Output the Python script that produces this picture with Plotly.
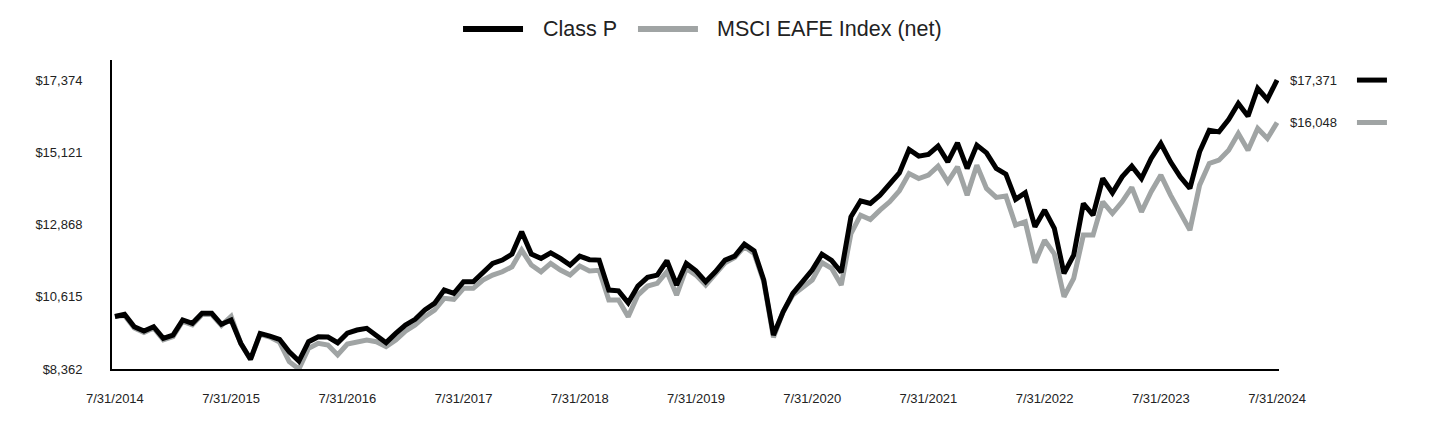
import pandas as pd
import plotly.graph_objects as go

# Monthly dates (categories)
dates = pd.date_range("2014-07-31", periods=121, freq="ME")
categories = [f"{d.month}/{d.day}/{d.year}" for d in dates]

class_p = [
    10000, 10070, 9680, 9545, 9680, 9318, 9420, 9890, 9786, 10097,
    10097, 9755, 9890, 9163, 8664, 9472, 9390, 9287, 8900, 8611,
    9213, 9370, 9360, 9180, 9480, 9577, 9630, 9420, 9183, 9474,
    9733, 9910, 10200, 10408, 10823, 10720, 11083, 11083, 11394, 11655,
    11758, 11945, 12640, 11945, 11811, 11986, 11811, 11603, 11883, 11770,
    11758, 10823, 10800, 10428, 10948, 11219, 11291, 11737, 10980, 11655,
    11425, 11083, 11394, 11758, 11883, 12257, 12049, 11135, 9420, 10148,
    10720, 11083, 11447, 11940, 11750, 11380, 13107, 13606, 13523, 13784,
    14127, 14478, 15206, 14999, 15051, 15310, 14822, 15413, 14616, 15342,
    15102, 14616, 14438, 13650, 13857, 12796, 13316, 12750, 11343, 11914,
    13523, 13160, 14302, 13857, 14354, 14687, 14302, 14927, 15393, 14822,
    14354, 13992, 15133, 15809, 15757, 16142, 16640, 16246, 17109, 16766,
    17371,
]

msci_eafe = [
    10000, 10030, 9640, 9500, 9640, 9270, 9370, 9850, 9740, 10060,
    10060, 9720, 10000, 9150, 8660, 9440, 9360, 9200, 8590, 8362,
    9007, 9163, 9110, 8800, 9140, 9213, 9266, 9213, 9057, 9266,
    9545, 9733, 9992, 10200, 10565, 10534, 10876, 10876, 11135, 11291,
    11394, 11550, 12070, 11603, 11394, 11655, 11447, 11291, 11571, 11420,
    11440, 10512, 10512, 9992, 10668, 10948, 11032, 11394, 10668, 11499,
    11291, 10980, 11322, 11675, 11842, 12174, 11966, 11083, 9350, 10150,
    10668, 10927, 11135, 11680, 11500, 10980, 12588, 13160, 13024, 13316,
    13575, 13918, 14457, 14302, 14407, 14687, 14198, 14666, 13784, 14718,
    13992, 13712, 13753, 12849, 12952, 11675, 12380, 11950, 10615, 11188,
    12537, 12537, 13575, 13213, 13575, 14023, 13263, 13888, 14407, 13784,
    13263, 12693, 14095, 14770, 14874, 15186, 15705, 15186, 15861, 15550,
    16048,
]

series_names = ["Class P", "MSCI EAFE Index (net)"]
y_tick_vals = [8362, 10615, 12868, 15121, 17374]
y_tick_text = ["$8,362", "$10,615", "$12,868", "$15,121", "$17,374"]
x_tick_vals = categories[::12]

BLACK = "#000000"
GRAY = "#A0A4A4"
TEXT = "#222222"
FONT = "Arial, Liberation Sans, sans-serif"

fig = go.Figure()
fig.add_trace(go.Scatter(x=categories, y=msci_eafe, mode="lines", name=series_names[1],
                         line=dict(color=GRAY, width=5), showlegend=False))
fig.add_trace(go.Scatter(x=categories, y=class_p, mode="lines", name=series_names[0],
                         line=dict(color=BLACK, width=5), showlegend=False))

shapes = []
annotations = []

# Top legend (custom)
leg_y = 1.1003
legend_items = [
    (series_names[0], BLACK, 0.3008, 0.3522, 0.3675),
    (series_names[1], GRAY, 0.4507, 0.5021, 0.5170),
]
for name, color, x0, x1, xt in legend_items:
    shapes.append(dict(type="line", xref="paper", yref="paper", x0=x0, x1=x1,
                       y0=leg_y, y1=leg_y, line=dict(color=color, width=6)))
    annotations.append(dict(xref="paper", yref="paper", x=xt, y=leg_y, text=name,
                            showarrow=False, xanchor="left", yanchor="middle",
                            font=dict(family=FONT, size=21.5, color=TEXT)))

# Right-side end labels
for vals, color in [(class_p, BLACK), (msci_eafe, GRAY)]:
    v = vals[-1]
    annotations.append(dict(xref="paper", yref="y", x=1.0077, y=v, text=f"${v:,}",
                            showarrow=False, xanchor="left", yanchor="middle",
                            font=dict(family=FONT, size=13, color=TEXT)))
    shapes.append(dict(type="line", xref="paper", yref="y", x0=1.0668, x1=1.0925,
                       y0=v, y1=v, line=dict(color=color, width=5)))

fig.update_layout(
    width=1432, height=424,
    margin=dict(l=104, r=161, t=52, b=63),
    paper_bgcolor="white", plot_bgcolor="white",
    font=dict(family=FONT, size=13, color=TEXT),
    shapes=shapes, annotations=annotations,
    showlegend=False,
)
fig.update_xaxes(type="category", range=[-0.3, 120.2], tickmode="array",
                 tickvals=x_tick_vals, ticktext=x_tick_vals, showgrid=False,
                 zeroline=False, showline=True, linecolor="black", linewidth=2,
                 ticks="", ticklabelstandoff=16, tickangle=0,
                 tickfont=dict(family=FONT, size=13, color=TEXT))
fig.update_yaxes(range=[8362, 17997], tickmode="array", tickvals=y_tick_vals,
                 ticktext=y_tick_text, showgrid=False, zeroline=False,
                 showline=True, linecolor="black", linewidth=2, ticks="",
                 ticklabelstandoff=25, tickfont=dict(family=FONT, size=13, color=TEXT))

fig.write_html("out.html")
